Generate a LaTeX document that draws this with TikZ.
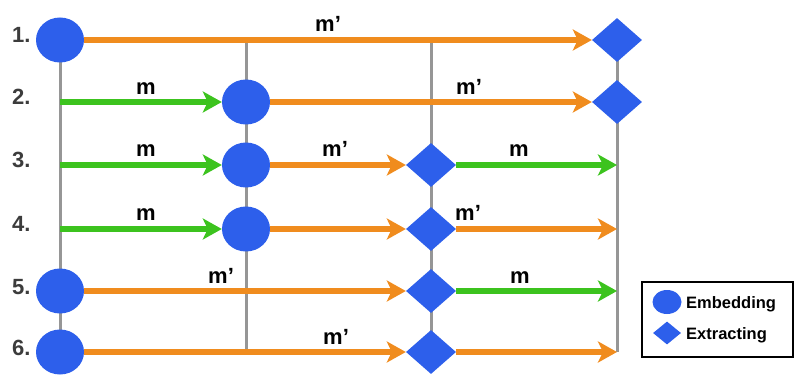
\documentclass[tikz,border=0pt]{standalone}
\usepackage{fontspec}
\setmainfont{Liberation Sans}
\usetikzlibrary{arrows.meta,shapes.geometric,backgrounds}

\definecolor{nodeblue}{RGB}{45,95,235}
\definecolor{porange}{RGB}{240,140,30}
\definecolor{mgreen}{RGB}{60,195,30}
\definecolor{railgray}{RGB}{150,150,150}
\definecolor{numgray}{RGB}{60,60,60}

\begin{document}
\begin{tikzpicture}[x=1pt,y=-1pt,
  embed/.style={ellipse, fill=nodeblue, minimum width=48pt, minimum height=45pt, inner sep=0pt},
  extract/.style={diamond, fill=nodeblue, minimum width=50pt, minimum height=44pt, inner sep=0pt},
  flow/.style={line width=6.5pt, -{Stealth[length=19pt,width=21pt,inset=5pt]}},
  mflow/.style={flow, draw=mgreen},
  pflow/.style={flow, draw=porange},
  rail/.style={draw=railgray, line width=3pt},
  lbl/.style={font=\bfseries\fontsize{22}{24}\selectfont, inner sep=0pt, anchor=base west},
  num/.style={lbl, text=numgray},
  legtext/.style={font=\bfseries\fontsize{16.5}{18}\selectfont, inner sep=0pt, anchor=base west},
]
\useasboundingbox (0,0) rectangle (794,379);

% embedding (circles) and extracting (diamonds) points
\node[embed]   (c1) at (60,40)  {};
\node[extract] (d1) at (617,40) {};
\node[embed]   (c2) at (246,102) {};
\node[extract] (d2) at (617,102) {};
\node[embed]   (c3) at (246,165) {};
\node[extract] (d3) at (431,165) {};
\node[embed]   (c4) at (246,229) {};
\node[extract] (d4) at (431,229) {};
\node[embed]   (c5) at (60,291) {};
\node[extract] (d5) at (431,291) {};
\node[embed]   (c6) at (60,352) {};
\node[extract] (d6) at (431,352) {};

% free ends of the flows and the rails
\coordinate (s2) at (60,102);
\coordinate (s3) at (60,165);
\coordinate (s4) at (60,229);
\coordinate (e3) at (617,165);
\coordinate (e4) at (617,229);
\coordinate (e5) at (617,291);
\coordinate (e6) at (617,352);
\coordinate (t2) at (246,40);
\coordinate (b2) at (246,352);
\coordinate (t3) at (431,40);

% vertical rails behind everything
\begin{scope}[on background layer]
  \draw[rail] (c1.center) -- (c6.center);
  \draw[rail] (t2) -- (b2);
  \draw[rail] (t3) -- (d6.center);
  \draw[rail] (d1.center) -- (e6);
\end{scope}

% row numbers
\node[num] (n1) at (12,43)  {1.};
\node[num] (n2) at (12,105) {2.};
\node[num] (n3) at (12,168) {3.};
\node[num] (n4) at (12,232) {4.};
\node[num] (n5) at (12,294) {5.};
\node[num] (n6) at (12,355) {6.};

% row 1
\draw[pflow] (c1) -- (d1);
\node[lbl] (l1a) at (315,32) {m'};
% row 2
\draw[mflow] (s2) -- (c2);
\draw[pflow] (c2) -- (d2);
\node[lbl] (l2a) at (136,95) {m};
\node[lbl] (l2b) at (456,95) {m'};
% row 3
\draw[mflow] (s3) -- (c3);
\draw[pflow] (c3) -- (d3);
\draw[mflow] (d3) -- (e3);
\node[lbl] (l3a) at (136,157) {m};
\node[lbl] (l3b) at (322,157) {m'};
\node[lbl] (l3c) at (509,157) {m};
% row 4
\draw[mflow] (s4) -- (c4);
\draw[pflow] (c4) -- (d4);
\draw[pflow] (d4) -- (e4);
\node[lbl] (l4a) at (136,221) {m};
\node[lbl] (l4b) at (455,221) {m'};
% row 5
\draw[pflow] (c5) -- (d5);
\draw[mflow] (d5) -- (e5);
\node[lbl] (l5a) at (208,283) {m'};
\node[lbl] (l5b) at (510,283) {m};
% row 6
\draw[pflow] (c6) -- (d6);
\draw[pflow] (d6) -- (e6);
\node[lbl] (l6a) at (323,344) {m'};

% legend
\node[draw=black, line width=1.2pt, minimum width=151pt, minimum height=75pt, inner sep=0pt] (legend) at (717.5,319.5) {};
\node[ellipse, fill=nodeblue, minimum width=29pt, minimum height=24pt, inner sep=0pt] (legc) at (667,302) {};
\node[diamond, fill=nodeblue, minimum width=28pt, minimum height=23pt, inner sep=0pt] (legd) at (667,333) {};
\node[legtext] (legct) at (686,308) {Embedding};
\node[legtext] (legdt) at (686,339) {Extracting};
\end{tikzpicture}
\end{document}
